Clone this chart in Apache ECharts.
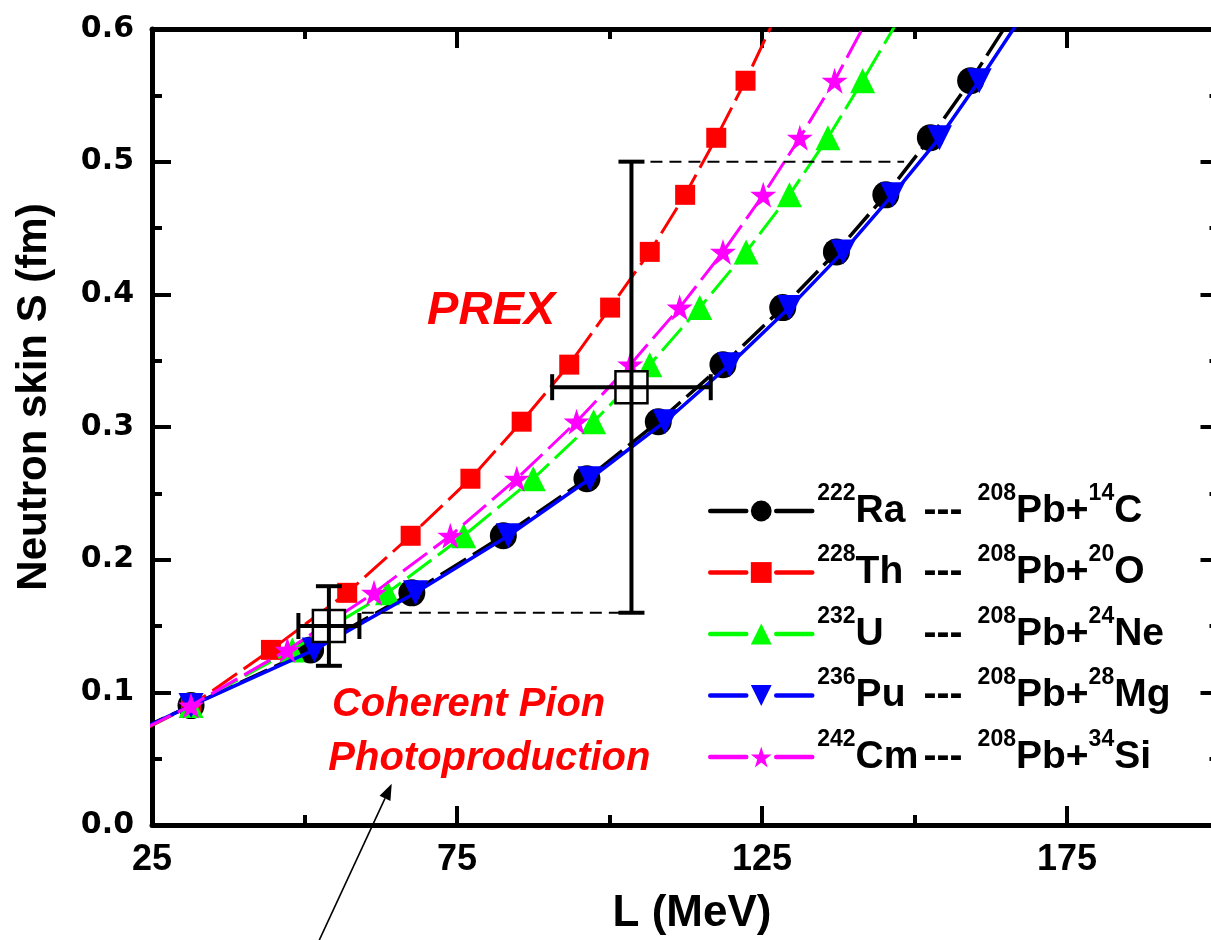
<!DOCTYPE html>
<html>
<head>
<meta charset="utf-8">
<script src="https://cdn.jsdelivr.net/npm/echarts@6/dist/echarts.min.js"></script>
<style>
  html, body { margin: 0; padding: 0; background: #fff; }
  #chart { width: 1211px; height: 940px; }
</style>
</head>
<body>
<div id="chart"></div>
<script>
// Neutron skin thickness S (fm), common to every decay curve
const skinS = [0.047, 0.090, 0.132, 0.175, 0.218, 0.261, 0.304, 0.347, 0.390, 0.432, 0.475, 0.518, 0.561, 0.604];

// Slope of the symmetry energy L (MeV) for each cluster decay
const lRa = [11.2, 31.4, 51.0, 67.6, 82.6, 96.3, 108.0, 118.6, 128.4, 137.2, 145.3, 152.6, 159.2, 165.2];
const lTh = [13.0, 31.4, 44.5, 57.0, 67.4, 77.2, 85.6, 93.4, 100.1, 106.6, 112.4, 117.5, 122.3, 126.7];
const lU  = [12.5, 31.4, 48.0, 63.6, 76.1, 87.5, 97.4, 106.6, 114.8, 122.4, 129.5, 135.8, 141.5, 147.0];
const lPu = [11.5, 31.4, 51.6, 68.2, 83.4, 96.8, 109.1, 119.7, 129.5, 138.3, 146.4, 154.1, 160.6, 166.8];
const lCm = [12.5, 31.4, 47.2, 61.4, 73.9, 84.8, 94.6, 103.4, 111.5, 118.6, 125.2, 131.2, 136.9, 141.9];

// Parent nucleus and emitted cluster: [mass number, symbol]
const parents  = [['222', 'Ra'], ['228', 'Th'], ['232', 'U'], ['236', 'Pu'], ['242', 'Cm']];
const clusters = [['14', 'C'], ['20', 'O'], ['24', 'Ne'], ['28', 'Mg'], ['34', 'Si']];

// Experimental constraints: [L, S, L error, S error]
const prexPoint = [103.6, 0.33, 13, 0.17];
const pionPoint = [54, 0.15, 5, 0.03];

// Dashed guide lines
const guideUpper = [[103.6, 0.5], [148.3, 0.5]];
const guideLower = [[59.4, 0.16], [103.6, 0.16]];

// Arrow pointing at the pion label: [L0, S0, L1, S1]
const arrowLine = [52.3, -0.088, 64.3, 0.031];

// Text notes: anchor at the left end, vertical middle of the capitals
const noteText = ['PREX', 'Coherent Pion', 'Photoproduction'];
const noteL = [70.1, 54.5, 53.9];
const noteS = [0.3874, 0.0903, 0.0497];
const noteSize = [47, 40, 40];

// Axis tick labels
const xTickLabels = [25, 75, 125, 175];
const yTickLabels = [0, 0.1, 0.2, 0.3, 0.4, 0.5, 0.6];

const FONT = '"Liberation Sans", Arial, sans-serif';
const STAR = 'path://M0,-10L2.245,-3.09L9.511,-3.09L3.633,1.18L5.878,8.09L0,3.82L-5.878,8.09L-3.633,1.18L-9.511,-3.09L-2.245,-3.09Z';

const names = parents.map((p, i) => p[0] + p[1] + ' --- 208Pb+' + clusters[i][0] + clusters[i][1]);

function curve(idx, xs, color, symbol, size, rotate, dash, width) {
  return {
    type: 'line',
    name: names[idx],
    data: xs.map((x, i) => [x, skinS[i]]),
    symbol: symbol,
    symbolSize: size,
    symbolRotate: rotate,
    showAllSymbol: true,
    clip: true,
    z: 2 + idx,
    lineStyle: { color: color, width: width, type: dash },
    itemStyle: { color: color, borderWidth: 0 },
    emphasis: { disabled: true }
  };
}

function renderErrorBar(params, api) {
  const L = api.value(0), S = api.value(1), dL = api.value(2), dS = api.value(3);
  const c = api.coord([L, S]);
  const xl = api.coord([L - dL, S])[0], xr = api.coord([L + dL, S])[0];
  const yt = api.coord([L, S + dS])[1], yb = api.coord([L, S - dS])[1];
  const cap = 13, half = 16;
  const st = { stroke: '#000', lineWidth: 4 };
  return {
    type: 'group',
    children: [
      { type: 'rect', shape: { x: c[0] - half, y: c[1] - half, width: 2 * half, height: 2 * half },
        style: { fill: '#fff', stroke: '#000', lineWidth: 2.5 } },
      { type: 'line', shape: { x1: xl, y1: c[1], x2: xr, y2: c[1] }, style: st },
      { type: 'line', shape: { x1: c[0], y1: yt, x2: c[0], y2: yb }, style: st },
      { type: 'line', shape: { x1: xl, y1: c[1] - cap, x2: xl, y2: c[1] + cap }, style: st },
      { type: 'line', shape: { x1: xr, y1: c[1] - cap, x2: xr, y2: c[1] + cap }, style: st },
      { type: 'line', shape: { x1: c[0] - cap, y1: yt, x2: c[0] + cap, y2: yt }, style: st },
      { type: 'line', shape: { x1: c[0] - cap, y1: yb, x2: c[0] + cap, y2: yb }, style: st }
    ]
  };
}

function renderArrow(params, api) {
  const p0 = api.coord([api.value(0), api.value(1)]);
  const p1 = api.coord([api.value(2), api.value(3)]);
  const dx = p1[0] - p0[0], dy = p1[1] - p0[1];
  const len = Math.sqrt(dx * dx + dy * dy);
  const ux = dx / len, uy = dy / len;
  const headLen = 16, headHalf = 6;
  const bx = p1[0] - ux * headLen, by = p1[1] - uy * headLen;
  return {
    type: 'group',
    children: [
      { type: 'line', shape: { x1: p0[0], y1: p0[1], x2: bx, y2: by }, style: { stroke: '#000', lineWidth: 1.6 } },
      { type: 'polygon', shape: { points: [[p1[0], p1[1]], [bx - uy * headHalf, by + ux * headHalf], [bx + uy * headHalf, by - ux * headHalf]] },
        style: { fill: '#000' } }
    ]
  };
}

function renderNote(params, api) {
  const i = params.dataIndex;
  const p = api.coord([api.value(0), api.value(1)]);
  return {
    type: 'text',
    x: p[0], y: p[1],
    style: {
      text: noteText[i],
      fill: '#ff0000',
      font: 'italic bold ' + noteSize[i] + 'px ' + FONT,
      align: 'left', verticalAlign: 'middle',
      textAlign: 'left', textVerticalAlign: 'middle'
    }
  };
}

const axisBlack = { color: '#000', width: 5 };
const tickStyle = { color: '#000', width: 4 };

function xAxisDef(pos, withLabels) {
  return {
    type: 'value', position: pos, min: 25, max: 225, interval: 50,
    axisLine: { show: true, onZero: false, lineStyle: axisBlack },
    axisTick: { show: true, inside: true, length: 19, lineStyle: tickStyle },
    minorTick: { show: true, splitNumber: 2, length: 10, lineStyle: tickStyle },
    splitLine: { show: false },
    axisLabel: {
      show: withLabels, margin: 17, color: '#000', fontSize: 36, lineHeight: 36,
      fontWeight: 'bold', fontFamily: FONT,
      formatter: v => (xTickLabels.indexOf(v) >= 0 ? String(v) : '')
    }
  };
}

function yAxisDef(pos, withLabels, offset) {
  return {
    type: 'value', position: pos, offset: offset, min: 0, max: 0.6, interval: 0.1,
    axisLine: { show: true, onZero: false, lineStyle: axisBlack },
    axisTick: { show: true, inside: true, length: 19, lineStyle: tickStyle },
    minorTick: { show: true, splitNumber: 2, length: 10, lineStyle: tickStyle },
    splitLine: { show: false },
    axisLabel: {
      show: withLabels, margin: 18, color: '#000', fontSize: 30,
      fontWeight: 'bold', fontFamily: '"DejaVu Sans", sans-serif',
      formatter: v => {
        const hit = yTickLabels.find(t => Math.abs(t - v) < 1e-9);
        return hit === undefined ? '' : hit.toFixed(1);
      }
    }
  };
}

const legendRich = {
  s: { fontSize: 23, fontWeight: 'bold', fontFamily: FONT, lineHeight: 24, verticalAlign: 'top', color: '#000' },
  m: { fontSize: 39, fontWeight: 'bold', fontFamily: FONT, lineHeight: 58, verticalAlign: 'middle', color: '#000' },
  n: { fontSize: 39, fontWeight: 'bold', fontFamily: FONT, lineHeight: 58, verticalAlign: 'middle', color: '#000', width: 68 },
  d: { fontSize: 39, fontWeight: 'bold', fontFamily: FONT, lineHeight: 58, verticalAlign: 'middle', color: '#000', width: 54 }
};

const chart = echarts.init(document.getElementById('chart'), null, { renderer: 'canvas' });

chart.setOption({
  backgroundColor: '#fff',
  animation: false,
  grid: { left: 152, top: 29, width: 1220, height: 796, containLabel: false, outerBoundsMode: 'none' },
  xAxis: [xAxisDef('bottom', true), xAxisDef('top', false)],
  yAxis: [yAxisDef('left', true, 0), yAxisDef('right', false, -152.5)],
  legend: {
    orient: 'vertical', left: 703, top: 477,
    itemWidth: 102, itemHeight: 26, itemGap: 13,
    selectedMode: false,
    data: names,
    lineStyle: { type: [36, 30], width: 4.5, cap: 'round' },
    formatter: name => {
      const i = names.indexOf(name);
      return '{s|' + parents[i][0] + '}{n|' + parents[i][1] + '}{d|---}{s|208}{m|Pb+}{s|' +
        clusters[i][0] + '}{m|' + clusters[i][1] + '}';
    },
    textStyle: { rich: legendRich }
  },
  graphic: [
    { type: 'text', x: 34, y: 397, rotation: Math.PI / 2,
      style: { text: 'Neutron skin S (fm)', font: 'bold 42px ' + FONT, fill: '#000',
               align: 'center', verticalAlign: 'middle', textAlign: 'center', textVerticalAlign: 'middle' } },
    { type: 'text', x: 692, y: 914,
      style: { text: 'L (MeV)', font: 'bold 44px ' + FONT, fill: '#000',
               align: 'center', verticalAlign: 'middle', textAlign: 'center', textVerticalAlign: 'middle' } }
  ],
  series: [
    curve(0, lRa, '#000000', 'circle', 27, 0, [30, 8], 3.5),
    curve(1, lTh, '#ff0000', 'rect', 20, 0, [30, 8], 3),
    curve(2, lU,  '#00ff00', 'triangle', 25, 0, [30, 8], 3),
    curve(3, lPu, '#0000ff', 'triangle', 25, 180, 'solid', 3.5),
    curve(4, lCm, '#ff00ff', STAR, 26, 0, [30, 8], 3),
    {
      type: 'line', name: 'guideUpper', data: guideUpper, symbol: 'none', z: 10, silent: true,
      lineStyle: { color: '#000', width: 2, type: [12, 7] }
    },
    {
      type: 'line', name: 'guideLower', data: guideLower, symbol: 'none', z: 10, silent: true,
      lineStyle: { color: '#000', width: 2, type: [12, 7] }
    },
    {
      type: 'custom', name: 'constraints', z: 11, clip: false, silent: true,
      renderItem: renderErrorBar, data: [prexPoint, pionPoint]
    },
    {
      type: 'custom', name: 'arrow', z: 12, clip: false, silent: true,
      renderItem: renderArrow, data: [arrowLine]
    },
    {
      type: 'custom', name: 'notes', z: 12, clip: false, silent: true,
      renderItem: renderNote, data: noteL.map((l, i) => [l, noteS[i]])
    }
  ]
});
</script>
</body>
</html>
